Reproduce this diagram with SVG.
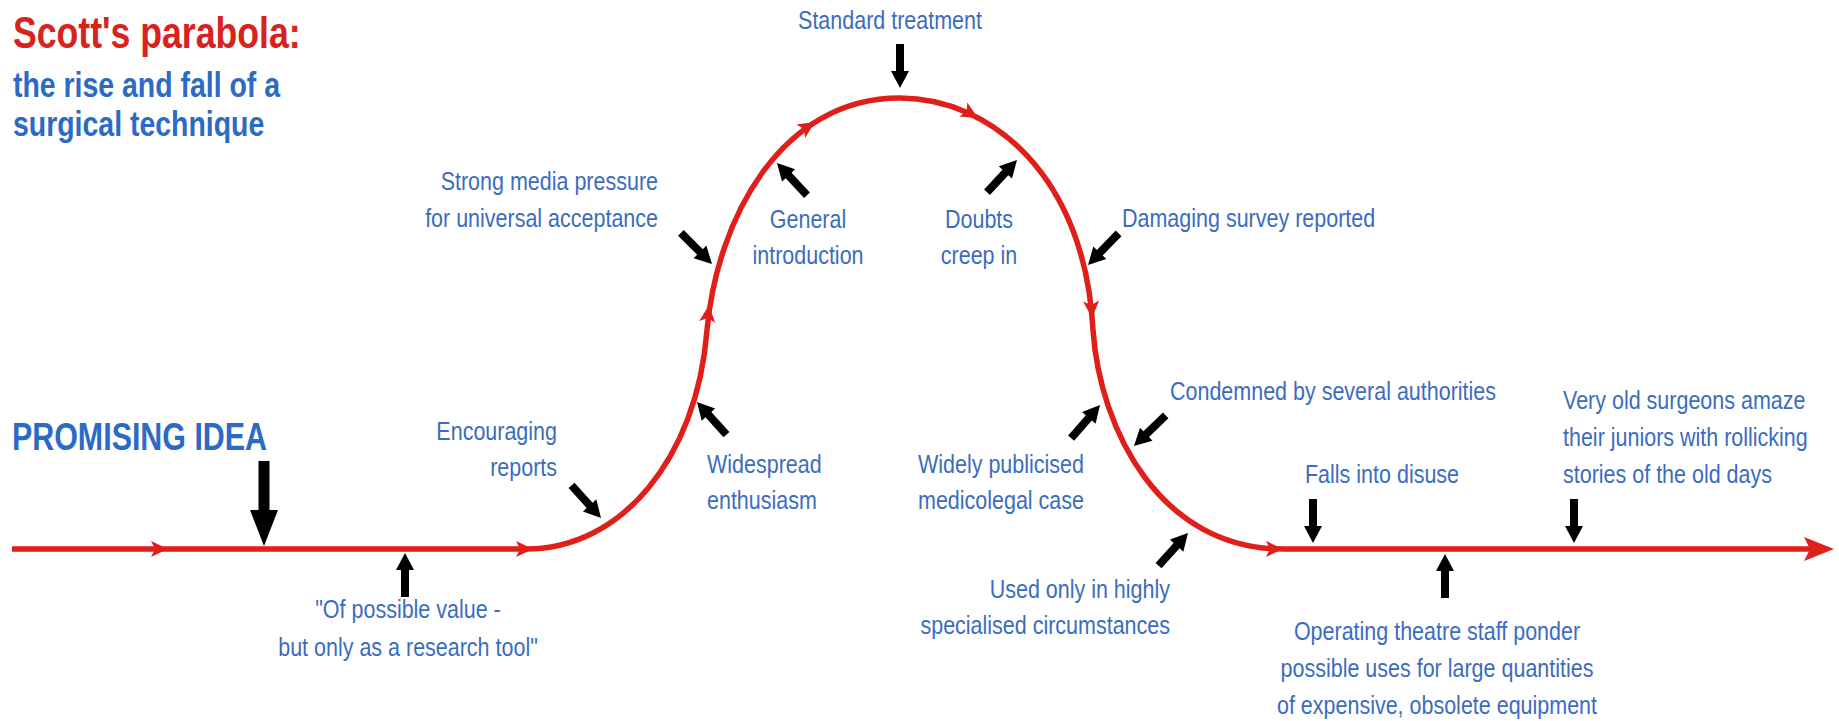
<svg xmlns="http://www.w3.org/2000/svg" width="1839" height="721" viewBox="0 0 1839 721">
<style>
text{font-family:"Liberation Sans",Arial,Helvetica,sans-serif}
.lbl{font-size:25px;fill:#3b6cbf}
.m{text-anchor:middle}
.e{text-anchor:end}
.ttl{font-size:44px;font-weight:bold;fill:#d8221e}
.sub{font-size:36px;font-weight:bold;fill:#2b6ac6}
.big{font-size:38px;font-weight:bold;fill:#2b6ac6}
.curve{fill:none;stroke:#e01e1a;stroke-width:5.5}
.rh{fill:#e01e1a}
.ptr{fill:#000}
</style>
<defs>
<path id="ptr" d="M0 0 L-17 -9 L-17 -4 L-44 -4 L-44 4 L-17 4 L-17 9 Z"/>
<path id="bigptr" d="M0 0 L-36 -14 L-36 -5.5 L-85 -5.5 L-85 5.5 L-36 5.5 L-36 14 Z"/>
<path id="rh" d="M0 0 L-17 -8 L-13 0 L-17 8 Z"/>
<path id="rhbig" d="M0 0 L-30 -12 L-24 0 L-30 12 Z"/>
</defs>
<rect width="1839" height="721" fill="#fff"/>

<g id="title">
<text class="ttl" transform="translate(13 48) scale(0.81 1)">Scott's parabola:</text>
<text class="sub" transform="translate(13 97) scale(0.79 1)"><tspan x="0">the rise and fall of a</tspan><tspan x="0" dy="39">surgical technique</tspan></text>
</g>

<g id="connectors">
<path class="curve" d="M12 549 H527 C620 549 697 460 707 330 C717 220 780 98 900 98 C990 98 1085 175 1093 330 C1100 430 1160 549 1283 549 H1812"/>
<use href="#rh" class="rh" transform="translate(168 549)"/>
<use href="#rh" class="rh" transform="translate(533 549)"/>
<use href="#rh" class="rh" transform="translate(709 305) rotate(-84)"/>
<use href="#rh" class="rh" transform="translate(815 122) rotate(-33)"/>
<use href="#rh" class="rh" transform="translate(978 118) rotate(30)"/>
<use href="#rh" class="rh" transform="translate(1092 318) rotate(87)"/>
<use href="#rh" class="rh" transform="translate(1283 549)"/>
<use href="#rhbig" class="rh" transform="translate(1834 549)"/>
</g>

<g id="promising-idea">
<text class="big" transform="translate(12 450) scale(0.8 1)">PROMISING IDEA</text>
<use href="#bigptr" class="ptr" transform="translate(264 546) rotate(90)"/>
</g>

<g id="possible-value">
<text class="lbl m" transform="translate(408 618) scale(0.86 1)"><tspan x="0">"Of possible value -</tspan><tspan x="0" dy="38">but only as a research tool"</tspan></text>
<use href="#ptr" class="ptr" transform="translate(405 553) rotate(-90)"/>
</g>

<g id="encouraging-reports">
<text class="lbl e" transform="translate(557 440) scale(0.86 1)"><tspan x="0">Encouraging</tspan><tspan x="0" dy="36">reports</tspan></text>
<use href="#ptr" class="ptr" transform="translate(601 518) rotate(48)"/>
</g>

<g id="widespread-enthusiasm">
<text class="lbl" transform="translate(707 473) scale(0.86 1)"><tspan x="0">Widespread</tspan><tspan x="0" dy="36">enthusiasm</tspan></text>
<use href="#ptr" class="ptr" transform="translate(697 402) rotate(-132)"/>
</g>

<g id="media-pressure">
<text class="lbl e" transform="translate(658 190) scale(0.86 1)"><tspan x="0">Strong media pressure</tspan><tspan x="0" dy="37">for universal acceptance</tspan></text>
<use href="#ptr" class="ptr" transform="translate(712 264) rotate(45)"/>
</g>

<g id="general-introduction">
<text class="lbl m" transform="translate(808 228) scale(0.86 1)"><tspan x="0">General</tspan><tspan x="0" dy="36">introduction</tspan></text>
<use href="#ptr" class="ptr" transform="translate(777 163) rotate(-133)"/>
</g>

<g id="standard-treatment">
<text class="lbl m" transform="translate(890 29) scale(0.86 1)">Standard treatment</text>
<use href="#ptr" class="ptr" transform="translate(900 88) rotate(90)"/>
</g>

<g id="doubts">
<text class="lbl m" transform="translate(979 228) scale(0.86 1)"><tspan x="0">Doubts</tspan><tspan x="0" dy="36">creep in</tspan></text>
<use href="#ptr" class="ptr" transform="translate(1017 160) rotate(-47)"/>
</g>

<g id="damaging-survey">
<text class="lbl" transform="translate(1122 227) scale(0.86 1)">Damaging survey reported</text>
<use href="#ptr" class="ptr" transform="translate(1088 265) rotate(134)"/>
</g>

<g id="medicolegal-case">
<text class="lbl" transform="translate(918 473) scale(0.86 1)"><tspan x="0">Widely publicised</tspan><tspan x="0" dy="36">medicolegal case</tspan></text>
<use href="#ptr" class="ptr" transform="translate(1100 405) rotate(-49)"/>
</g>

<g id="condemned">
<text class="lbl" transform="translate(1170 400) scale(0.86 1)">Condemned by several authorities</text>
<use href="#ptr" class="ptr" transform="translate(1134 446) rotate(136)"/>
</g>

<g id="specialised">
<text class="lbl e" transform="translate(1170 598) scale(0.86 1)"><tspan x="0">Used only in highly</tspan><tspan x="0" dy="36">specialised circumstances</tspan></text>
<use href="#ptr" class="ptr" transform="translate(1188 533) rotate(-48)"/>
</g>

<g id="disuse">
<text class="lbl" transform="translate(1305 483) scale(0.86 1)">Falls into disuse</text>
<use href="#ptr" class="ptr" transform="translate(1313 543) rotate(90)"/>
</g>

<g id="obsolete-equipment">
<text class="lbl m" transform="translate(1437 640) scale(0.86 1)"><tspan x="0">Operating theatre staff ponder</tspan><tspan x="0" dy="37">possible uses for large quantities</tspan><tspan x="0" dy="37">of expensive, obsolete equipment</tspan></text>
<use href="#ptr" class="ptr" transform="translate(1445 554) rotate(-90)"/>
</g>

<g id="old-surgeons">
<text class="lbl" transform="translate(1563 409) scale(0.86 1)"><tspan x="0">Very old surgeons amaze</tspan><tspan x="0" dy="37">their juniors with rollicking</tspan><tspan x="0" dy="37">stories of the old days</tspan></text>
<use href="#ptr" class="ptr" transform="translate(1574 543) rotate(90)"/>
</g>
</svg>
